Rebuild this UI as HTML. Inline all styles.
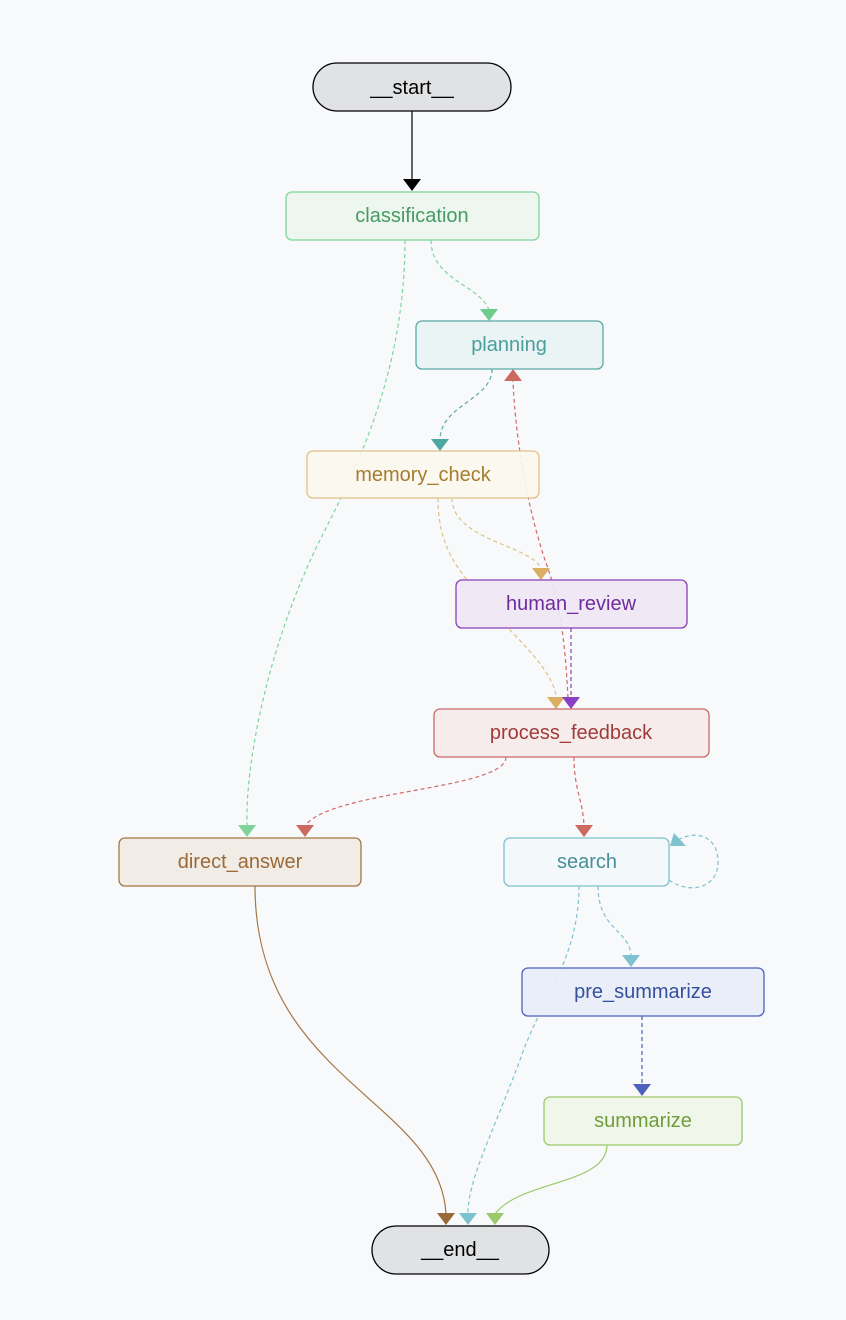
<!DOCTYPE html>
<html><head><meta charset="utf-8"><style>
html,body{margin:0;padding:0;background:#f8f9fb;}
svg{display:block;}
text{font-family:"Liberation Sans",sans-serif;font-size:20px;text-anchor:middle;dominant-baseline:central;}
</style></head><body>
<svg width="846" height="1320" viewBox="0 0 846 1320" xmlns="http://www.w3.org/2000/svg">
<rect width="846" height="1320" fill="#f8f9fb"/>
<g fill="none" stroke-width="1.2">
<path d="M412 111 V180" stroke="#000"/>
<path d="M405 240 C405 380 350 480 320 540 C270 640 245 760 247 826" stroke="#7fd49a" stroke-dasharray="4,3"/>
<path d="M431 240 C431 280 480 285 489 310" stroke="#7fd49a" stroke-dasharray="4,3"/>
<path d="M492 369 C492 400 440 405 440 440" stroke="#5aa9a6" stroke-dasharray="4,3"/>
<path d="M438 498 C438 560 470 580 500 620 C540 660 555 680 556 698" stroke="#e0c088" stroke-dasharray="4,3"/>
<path d="M452 498 C452 540 530 545 541 568" stroke="#e0c088" stroke-dasharray="4,3"/>
<path d="M568 698 C565 640 560 600 545 560 C525 500 515 430 513 381" stroke="#d06a6a" stroke-dasharray="4,3"/>
<path d="M571 628 V698" stroke="#8a3fb5" stroke-dasharray="4,3"/>
<path d="M506 757 C506 790 330 790 305 826" stroke="#d06a6a" stroke-dasharray="4,3"/>
<path d="M574 757 C574 790 583 800 584 826" stroke="#d06a6a" stroke-dasharray="4,3"/>
<path d="M669 880 C690 895 718 888 718 862 C718 835 695 830 678 840" stroke="#7ec2d0" stroke-dasharray="4,3"/>
<path d="M598 886 C598 930 630 930 631 956" stroke="#7ec2d0" stroke-dasharray="4,3"/>
<path d="M579 886 C579 960 540 1000 520 1060 C490 1140 468 1180 468 1214" stroke="#7ec2d0" stroke-dasharray="4,3"/>
<path d="M642 1016 V1085" stroke="#4a62bb" stroke-dasharray="4,3"/>
<path d="M607 1145 C607 1185 520 1180 495 1214" stroke="#9cc96a"/>
<path d="M255 886 C255 1080 440 1100 446 1214" stroke="#a47645"/>
</g>
<g>
<polygon points="403,179 421,179 412,191" fill="#000"/>
<polygon points="238,825 256,825 247,837" fill="#7fd49a"/>
<polygon points="480,309 498,309 489,321" fill="#6ecb8c"/>
<polygon points="431,439 449,439 440,451" fill="#4ea6a3"/>
<polygon points="532,568 550,568 541,580" fill="#d9b062"/>
<polygon points="547,697 565,697 556,709" fill="#d9b062"/>
<polygon points="562,697 580,697 571,709" fill="#8a3fc5"/>
<polygon points="504,381 522,381 513,369" fill="#cc6a60"/>
<polygon points="296,825 314,825 305,837" fill="#cc6a60"/>
<polygon points="575,825 593,825 584,837" fill="#cc6a60"/>
<polygon points="670,846 686,846 674,833" fill="#7ec2d0"/>
<polygon points="622,955 640,955 631,967" fill="#7ec2d0"/>
<polygon points="633,1084 651,1084 642,1096" fill="#4a62bb"/>
<polygon points="437,1213 455,1213 446,1225" fill="#9a6a38"/>
<polygon points="459,1213 477,1213 468,1225" fill="#7ec2d0"/>
<polygon points="486,1213 504,1213 495,1225" fill="#9cc96a"/>
</g>
<g stroke-width="1.3">
<rect x="313" y="63" width="198" height="48" rx="24" fill="#e1e2e4" stroke="#000"/>
<text x="412" y="88" fill="#000">__start__</text>
<rect x="286" y="192" width="253" height="48" rx="6" fill="#ebf6ee" stroke="#7fd49a" fill-opacity="0.92"/>
<text x="412" y="216" fill="#479a64">classification</text>
<rect x="416" y="321" width="187" height="48" rx="6" fill="#e9f3f3" stroke="#5aa9a6" fill-opacity="0.92"/>
<text x="509" y="345" fill="#4a9e9c">planning</text>
<rect x="307" y="451" width="232" height="47" rx="6" fill="#fbf7ef" stroke="#e0c088" fill-opacity="0.92"/>
<text x="423" y="475" fill="#a67c2e">memory_check</text>
<rect x="456" y="580" width="231" height="48" rx="6" fill="#f0e6f5" stroke="#8a3fb5" fill-opacity="0.92"/>
<text x="571" y="604" fill="#6e2c9c">human_review</text>
<rect x="434" y="709" width="275" height="48" rx="6" fill="#f6eaea" stroke="#c86a6a" fill-opacity="0.92"/>
<text x="571" y="733" fill="#a03a3a">process_feedback</text>
<rect x="119" y="838" width="242" height="48" rx="6" fill="#f1ece6" stroke="#a47645"/>
<text x="240" y="862" fill="#9a6a38">direct_answer</text>
<rect x="504" y="838" width="165" height="48" rx="6" fill="#f3f8fa" stroke="#7ec2d0"/>
<text x="587" y="862" fill="#4a8e9a">search</text>
<rect x="522" y="968" width="242" height="48" rx="6" fill="#e8edf7" stroke="#4a62bb" fill-opacity="0.92"/>
<text x="643" y="992" fill="#34509e">pre_summarize</text>
<rect x="544" y="1097" width="198" height="48" rx="6" fill="#f1f6ea" stroke="#9cc96a"/>
<text x="643" y="1121" fill="#6e9e3a">summarize</text>
<rect x="372" y="1226" width="177" height="48" rx="24" fill="#e1e2e4" stroke="#000"/>
<text x="460" y="1250" fill="#000">__end__</text>
</g>
</svg>
</body></html>
